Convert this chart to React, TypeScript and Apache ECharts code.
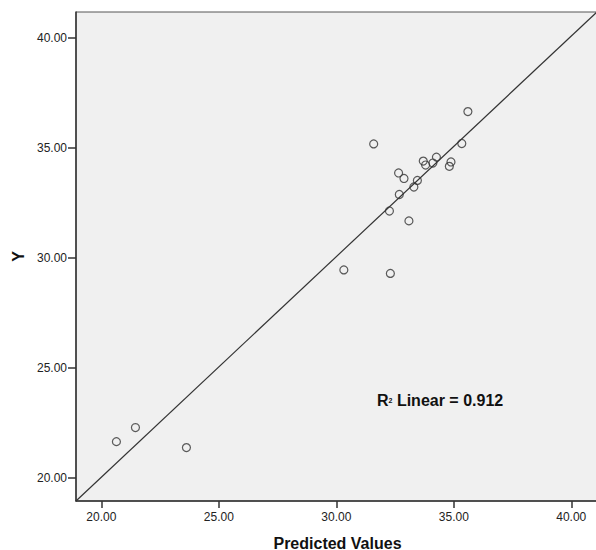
import React, { useEffect, useRef } from "react";
import * as echarts from "echarts";

const predictedValues = [
  20.64, 21.45, 23.62, 31.59, 35.34, 34.26, 33.7, 33.8, 34.11, 34.88, 34.81,
  32.65, 32.88, 33.45, 33.3, 32.68, 32.26, 33.09, 30.32, 32.3, 35.6,
];
const observedY = [
  21.64, 22.28, 21.37, 35.18, 35.2, 34.58, 34.4, 34.22, 34.31, 34.36, 34.16,
  33.86, 33.61, 33.52, 33.22, 32.88, 32.13, 31.68, 29.45, 29.29, 36.65,
];
const xTickValues = [20, 25, 30, 35, 40];
const yTickValues = [20, 25, 30, 35, 40];
const X_MIN = 18.92;
const X_MAX = 41.18;
const Y_MIN = 18.94;
const Y_MAX = 41.18;
const rSquaredLabel = "0.912";

const FONT = 'Arial, "Liberation Sans", sans-serif';

function linearFit(xs: number[], ys: number[]) {
  const n = xs.length;
  const mx = xs.reduce((s, v) => s + v, 0) / n;
  const my = ys.reduce((s, v) => s + v, 0) / n;
  let sxy = 0;
  let sxx = 0;
  for (let i = 0; i < n; i++) {
    sxy += (xs[i] - mx) * (ys[i] - my);
    sxx += (xs[i] - mx) * (xs[i] - mx);
  }
  const b = sxy / sxx;
  const a = my - b * mx;
  return { a, b };
}

export default function App() {
  const ref = useRef<HTMLDivElement>(null);

  useEffect(() => {
    if (!ref.current) return;
    const chart = echarts.init(ref.current, null, { renderer: "svg" });
    const points = predictedValues.map((x, i) => [x, observedY[i]]);
    const { a, b } = linearFit(predictedValues, observedY);
    const fitLine = [
      [X_MIN, a + b * X_MIN],
      [X_MAX, a + b * X_MAX],
    ];

    chart.setOption({
      animation: false,
      backgroundColor: "#ffffff",
      grid: {
        left: 76,
        top: 12,
        width: 523,
        height: 489,
        outerBoundsMode: "none",
        containLabel: false,
        show: true,
        backgroundColor: "#f0f0f0",
        borderColor: "#555555",
        borderWidth: 1,
      },
      xAxis: {
        type: "value",
        min: X_MIN,
        max: X_MAX,
        name: "Predicted Values",
        nameLocation: "middle",
        nameGap: 34,
        nameTextStyle: {
          fontFamily: FONT,
          fontSize: 16,
          fontWeight: "bold",
          color: "#111111",
        },
        axisLine: { show: true, lineStyle: { color: "#333333", width: 1.5 } },
        axisTick: {
          show: true,
          length: 7,
          customValues: xTickValues,
          lineStyle: { color: "#333333", width: 1.5 },
        },
        axisLabel: {
          customValues: xTickValues,
          formatter: (v: number) => v.toFixed(2),
          fontFamily: FONT,
          fontSize: 12,
          color: "#222222",
          margin: 10,
        },
        splitLine: { show: false },
      },
      yAxis: {
        type: "value",
        min: Y_MIN,
        max: Y_MAX,
        name: "Y",
        nameLocation: "middle",
        nameGap: 46,
        nameTextStyle: {
          fontFamily: FONT,
          fontSize: 16,
          fontWeight: "bold",
          color: "#111111",
        },
        axisLine: { show: true, lineStyle: { color: "#333333", width: 1.5 } },
        axisTick: {
          show: true,
          length: 8,
          customValues: yTickValues,
          lineStyle: { color: "#333333", width: 1.5 },
        },
        axisLabel: {
          customValues: yTickValues,
          formatter: (v: number) => v.toFixed(2),
          fontFamily: FONT,
          fontSize: 12,
          color: "#222222",
          margin: 9,
        },
        splitLine: { show: false },
      },
      series: [
        {
          type: "line",
          data: fitLine,
          showSymbol: false,
          symbol: "none",
          lineStyle: { color: "#333333", width: 1.2 },
          clip: true,
          silent: true,
          z: 2,
        },
        {
          type: "scatter",
          data: points,
          symbol: "circle",
          symbolSize: 8,
          itemStyle: {
            color: "rgba(0,0,0,0)",
            borderColor: "#333333",
            borderWidth: 1.2,
          },
          z: 3,
        },
      ],
      graphic: [
        {
          type: "text",
          left: 377,
          top: 392,
          style: {
            text: "{r|R}{s|2}{t| Linear = " + rSquaredLabel + "}",
            rich: {
              r: {
                fontFamily: FONT,
                fontSize: 16,
                fontWeight: "bold",
                fill: "#111111",
              },
              s: {
                fontFamily: FONT,
                fontSize: 7,
                fontWeight: "bold",
                fill: "#111111",
              },
              t: {
                fontFamily: FONT,
                fontSize: 16,
                fontWeight: "bold",
                fill: "#111111",
              },
            },
          },
          z: 10,
        },
      ],
    });

    return () => {
      chart.dispose();
    };
  }, []);

  return (
    <div
      ref={ref}
      style={{ position: "fixed", left: 0, top: 0, width: 596, height: 550 }}
    />
  );
}
